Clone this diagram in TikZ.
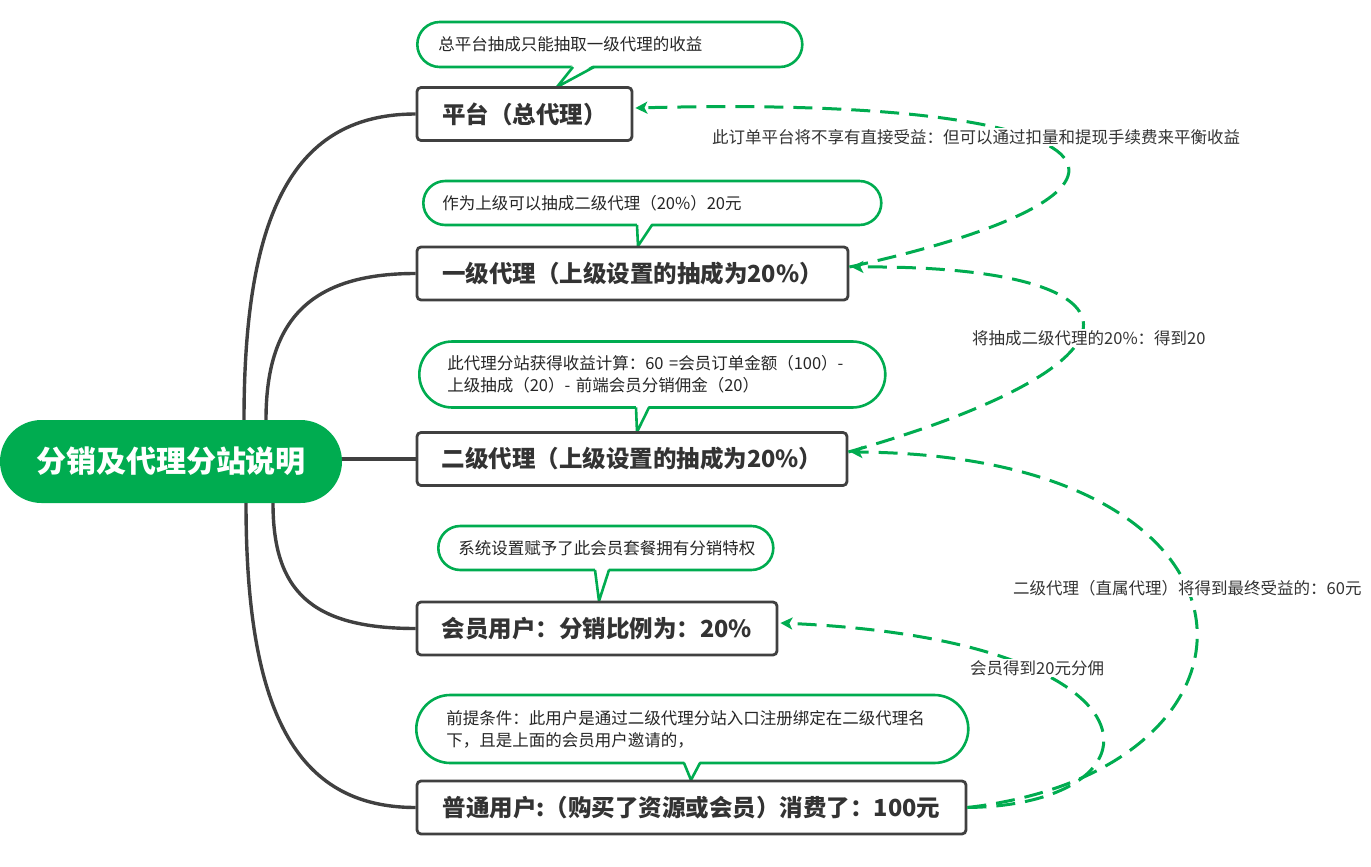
\documentclass[tikz,border=0pt]{standalone}
\usepackage{fontspec}
\setmainfont{Noto Sans CJK SC}
\usetikzlibrary{arrows.meta,calc}
\definecolor{mmgreen}{RGB}{0,172,80}
\definecolor{mmdark}{RGB}{64,64,64}
\definecolor{mmtext}{RGB}{51,51,51}
\begin{document}
\begin{tikzpicture}[x=1pt,y=-1pt,
 rootnode/.style={fill=mmgreen, text=white, font=\fontsize{30}{36}\selectfont\bfseries, rounded corners=41.5pt, minimum width=342pt, minimum height=83pt, inner sep=0pt},
 topic/.style={draw=mmdark, line width=2.8pt, rounded corners=4pt, fill=white, text=mmtext, font=\fontsize{23.5}{28}\selectfont\bfseries, minimum height=53pt, inner sep=0pt},
 bubble/.style={draw=mmgreen, line width=2.6pt, fill=white, text=black!85, font=\fontsize{16.5}{22}\selectfont, align=left, inner ysep=0pt, anchor=west},
 tailline/.style={draw=mmgreen, line width=2.6pt},
 branch/.style={draw=mmdark, line width=3.4pt},
 relation/.style={draw=mmgreen, line width=3pt, dash pattern=on 19pt off 10pt, -{Stealth[length=12pt,width=12pt,inset=3pt]}},
 rellabel/.style={fill=white, text=mmtext, font=\fontsize{16.5}{20}\selectfont, inner sep=1pt, anchor=west}
]
\useasboundingbox (0,0) rectangle (1371,867);

% root
\node[rootnode] (root) at (171,461.5) {分销及代理分站说明};

\coordinate (p1) at (524.5,114);
\coordinate (p2) at (632.5,273.5);
\coordinate (p3) at (632,459);
\coordinate (p4) at (597,628.5);
\coordinate (p5) at (691.5,807.5);

% callouts
\node[bubble, minimum height=45pt, rounded corners=22.5pt, inner xsep=21pt, text width=343pt] (c1) at (416,44.5) {总平台抽成只能抽取一级代理的收益};
\fill[white] (573,64.5) -- (557,87) -- (594,64.5) -- cycle;
\draw[tailline] (573,67) -- (557,87) -- (594,67);

\node[bubble, minimum height=44pt, rounded corners=22pt, inner xsep=19pt, text width=420pt] (c2) at (422,203) {作为上级可以抽成二级代理（20\%）20元};
\fill[white] (637,222.5) -- (638,246) -- (652,222.5) -- cycle;
\draw[tailline] (637,225) -- (638,246) -- (652,225);

\node[bubble, minimum height=66pt, rounded corners=33pt, inner xsep=28pt, text width=410pt] (c3) at (418,374.5) {此代理分站获得收益计算：60 =会员订单金额（100）-\\上级抽成（20）- 前端会员分销佣金（20）};
\fill[white] (636,405) -- (637,432) -- (649,405) -- cycle;
\draw[tailline] (636,407.5) -- (637,432) -- (649,407.5);

\node[bubble, minimum height=44pt, rounded corners=22pt, inner xsep=20pt, text width=295pt] (c4) at (437,548) {系统设置赋予了此会员套餐拥有分销特权};
\fill[white] (595,567.5) -- (599,601) -- (609,567.5) -- cycle;
\draw[tailline] (595,570) -- (599,601) -- (609,570);

\node[bubble, minimum height=68pt, rounded corners=34pt, inner xsep=30pt, text width=492pt] (c5) at (415,729) {前提条件：此用户是通过二级代理分站入口注册绑定在二级代理名\\下，且是上面的会员用户邀请的，};
\fill[white] (684,760.5) -- (691,780) -- (700,760.5) -- cycle;
\draw[tailline] (684,763) -- (691,780) -- (700,763);

% topic boxes
\node[topic, minimum width=215pt] (b1) at (p1) {平台（总代理）};
\node[topic, minimum width=431pt] (b2) at (p2) {一级代理（上级设置的抽成为20\%）};
\node[topic, minimum width=430pt] (b3) at (p3) {二级代理（上级设置的抽成为20\%）};
\node[topic, minimum width=360pt] (b4) at (p4) {会员用户：分销比例为：20\%};
\node[topic, minimum width=549pt] (b5) at (p5) {普通用户:（购买了资源或会员）消费了：100元};

% branches
\draw[branch] ([xshift=73pt]root.north) .. controls (244,210) and (295,114) .. (b1.west);
\draw[branch] ([xshift=95pt]root.north) .. controls (266,320) and (310,273.5) .. (b2.west);
\draw[branch] (root.east |- b3.west) -- (b3.west);
\draw[branch] ([xshift=102pt]root.south) .. controls (273,590) and (310,628.5) .. (b4.west);
\draw[branch] ([xshift=75pt]root.south) .. controls (246,710) and (295,807.5) .. (b5.west);

% relations
\draw[relation] ([yshift=6.5pt]b2.east) .. controls (1200,190) and (1130,95) .. ([yshift=6pt,xshift=2pt]b1.east);
\draw[relation] ([yshift=7pt]b3.east) .. controls (1170,360) and (1150,265) .. ([yshift=6.5pt,xshift=2pt]b2.east);
\draw[relation] (b5.east) .. controls (1170,805) and (1175,640) .. ([yshift=5.5pt,xshift=2pt]b4.east);
\draw[relation] (b5.east) .. controls (1290,770) and (1290,455) .. ([yshift=7pt,xshift=2pt]b3.east);

% relation labels
\node[rellabel] (l1) at (711,137) {此订单平台将不享有直接受益：但可以通过扣量和提现手续费来平衡收益};
\node[rellabel] (l2) at (971,338) {将抽成二级代理的20\%：得到20};
\node[rellabel] (l3) at (969,668) {会员得到20元分佣};
\node[rellabel] (l4) at (1012,588) {二级代理（直属代理）将得到最终受益的：60元};
\end{tikzpicture}
\end{document}
